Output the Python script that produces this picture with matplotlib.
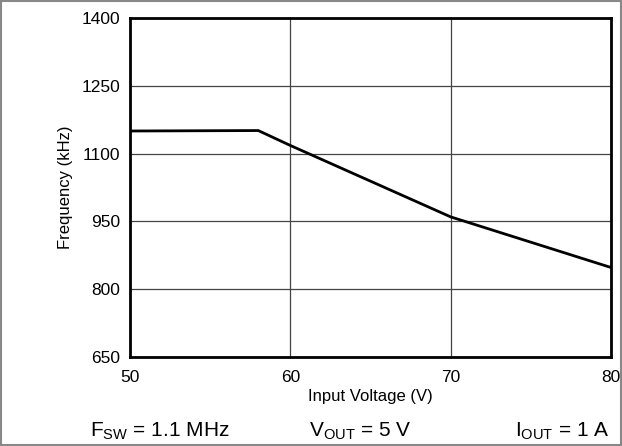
import matplotlib.pyplot as plt
from matplotlib.patches import Rectangle

plt.rcParams['font.family'] = ['Liberation Sans', 'DejaVu Sans']
plt.rcParams['mathtext.fontset'] = 'custom'
plt.rcParams['mathtext.rm'] = 'Liberation Sans'
plt.rcParams['mathtext.it'] = 'Liberation Sans:italic'

# Napiecie wejsciowe (V) i czestotliwosc (kHz)
napiecie = [50, 58, 60, 65, 70, 75, 80]
czestotliwosc = [1150, 1151, 1118, 1039, 960, 904, 848]

x_ticks = [50, 60, 70, 80]
y_ticks = [650, 800, 950, 1100, 1250, 1400]

fig = plt.figure(figsize=(6.22, 4.46), dpi=100)
ax = fig.add_axes([130 / 622, 1 - 357 / 446, 481 / 622, 339 / 446])

ax.plot(napiecie, czestotliwosc, color='black', linewidth=2)

ax.set_xlim(50, 80)
ax.set_ylim(650, 1400)
ax.set_xticks(x_ticks)
ax.set_yticks(y_ticks)
ax.tick_params(length=0, labelsize=12.5)
ax.tick_params(axis='x', pad=9)
ax.tick_params(axis='y', pad=7)
ax.grid(True, color='#444444', linewidth=0.9)
for s in ax.spines.values():
    s.set_linewidth(2)

ax.set_xlabel('Input Voltage (V)', fontsize=12, labelpad=3)
ax.set_ylabel('Frequency (kHz)', fontsize=12, labelpad=6)

fig.text(160 / 622, 1 - 431 / 446, r'F$_{\mathrm{SW}}$ = 1.1 MHz', fontsize=15, ha='center', va='center')
fig.text(360 / 622, 1 - 431 / 446, r'V$_{\mathrm{OUT}}$ = 5 V', fontsize=15, ha='center', va='center')
fig.text(562 / 622, 1 - 431 / 446, r'I$_{\mathrm{OUT}}$ = 1 A', fontsize=15, ha='center', va='center')

fig.patches.append(Rectangle((0.002, 0.002), 0.996, 0.996, transform=fig.transFigure,
                             fill=False, edgecolor='#888888', linewidth=1.5))

fig.savefig('out.png', dpi=100)
